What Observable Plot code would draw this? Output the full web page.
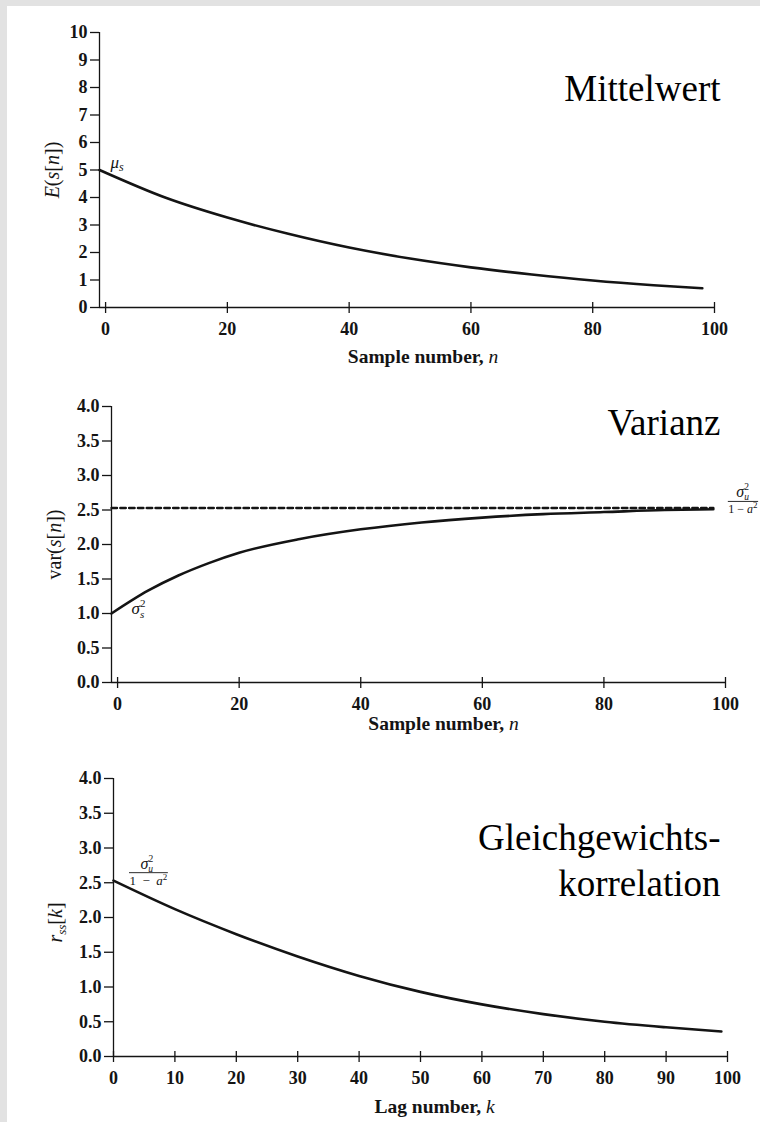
<!DOCTYPE html>
<html>
<head>
<meta charset="utf-8">
<script src="https://cdn.jsdelivr.net/npm/d3@7"></script>
<script src="https://cdn.jsdelivr.net/npm/@observablehq/plot@0.6"></script>
<style>
  html, body { margin: 0; padding: 0; background: #fff; }
  #page { position: relative; width: 760px; height: 1122px; overflow: hidden; background: #fff; }
  .fr { position: absolute; background: #e2e2e2; z-index: 5; }
  .fr.top { left: 0; top: 0; width: 760px; height: 6px; }
  .fr.left { left: 0; top: 0; width: 7px; height: 1122px; }
  .panel { position: absolute; left: 0; width: 760px; }
</style>
</head>
<body>
<div id="page">
  <div class="fr top"></div><div class="fr left"></div>
  <div id="p1" class="panel" style="top:0px"></div>
  <div id="p2" class="panel" style="top:375px"></div>
  <div id="p3" class="panel" style="top:745px"></div>
</div>
<script>
// ---------- data ----------
const meanN   = [-1, 10, 20, 30, 40, 50, 60, 70, 80, 90, 98];
const meanVal = [5.0, 3.98, 3.27, 2.68, 2.18, 1.78, 1.46, 1.2, 0.98, 0.81, 0.70];

const varN   = [-1, 5, 10, 15, 20, 30, 40, 50, 60, 70, 80, 90, 98];
const varVal = [1.0, 1.33, 1.55, 1.73, 1.88, 2.08, 2.22, 2.32, 2.39, 2.44, 2.47, 2.5, 2.51];

const asymN   = [-1, 98];
const asymVal = 2.53;

const lagK    = [0, 10, 20, 30, 40, 50, 60, 70, 80, 90, 99];
const corrVal = [2.53, 2.12, 1.76, 1.44, 1.16, 0.93, 0.75, 0.61, 0.5, 0.42, 0.36];

const meanYTicks   = [0, 1, 2, 3, 4, 5, 6, 7, 8, 9, 10];
const halfYTicks   = [0, 0.5, 1, 1.5, 2, 2.5, 3, 3.5, 4];
const sampleXTicks = [0, 20, 40, 60, 80, 100];
const lagXTicks    = [0, 10, 20, 30, 40, 50, 60, 70, 80, 90, 100];

const titles = ["Mittelwert", "Varianz", "Gleichgewichts-\nkorrelation"];

// ---------- rich text (math italics, sub/superscripts) ----------
const I = s => `<tspan font-style="italic">${s}</tspan>`;
const frac = (sp, den) =>
  `<tspan x="${sp}" y="-4" font-style="italic" font-size="16">σ</tspan>` +
  `<tspan font-size="9.5" dy="-7">2</tspan>` +
  `<tspan font-style="italic" font-size="9.5" dx="-4.8" dy="10">u</tspan>` +
  `<tspan class="den" x="0" y="12" font-size="${den.size}">1${den.gap}−${den.gap}<tspan font-style="italic">a</tspan><tspan font-size="9" dy="-5">2</tspan></tspan>`;
const RICH = {
  "§E": `${I("E")}(${I("s")}[${I("n")}])`,
  "§var": `var(${I("s")}[${I("n")}])`,
  "§r": `${I("r")}<tspan font-style="italic" font-size="13" dy="4">ss</tspan><tspan dy="-4">[</tspan>${I("k")}]`,
  "§sample": `Sample number, <tspan font-style="italic" font-weight="normal">n</tspan>`,
  "§lag": `Lag number, <tspan font-style="italic" font-weight="normal">k</tspan>`,
  "§mu": `${I("μ")}<tspan font-style="italic" font-size="12" dy="3">s</tspan>`,
  "§sig": `${I("σ")}<tspan font-size="11" dy="-7">2</tspan><tspan font-style="italic" font-size="11" dx="-5.5" dy="11">s</tspan>`,
  "§frac": frac(11, {size: 13, gap: "\u2002"}),
  "§fracR": frac(8, {size: 12, gap: " "})
};

const ink = "#141414";
const serif = "'Liberation Serif', 'Times New Roman', serif";

function axes({xmin, xmax, ymax, xTicks, yTicks, yFmt, pxY}) {
  return [
    Plot.ruleY([0], {x1: xmin, x2: xmax, stroke: ink, strokeWidth: 1.3}),
    Plot.ruleX([xmin], {y1: 0, y2: ymax, stroke: ink, strokeWidth: 1.3}),
    Plot.ruleX(xTicks, {x: d => d, y1: -6 / pxY, y2: 5 / pxY, stroke: ink, strokeWidth: 1.3}),
    Plot.axisX(xTicks, {tickSize: 0, tickPadding: 15, tickFormat: d => String(d),
      fontSize: 18, fontWeight: "bold", color: ink, label: null}),
    Plot.axisY(yTicks, {tickSize: 9, tickPadding: 3, tickFormat: yFmt, strokeWidth: 1.3,
      fontSize: 18, fontWeight: "bold", color: ink, label: null})
  ];
}

const style = {background: "transparent", fontFamily: serif, color: ink, overflow: "visible"};

// ---------- panel 1: mean ----------
const p1 = Plot.plot({
  width: 760, height: 375,
  marginLeft: 99, marginRight: 46, marginTop: 32, marginBottom: 68,
  x: {domain: [-1, 100]}, y: {domain: [0, 10]},
  style,
  marks: [
    ...axes({xmin: -1, xmax: 100, ymax: 10, xTicks: sampleXTicks, yTicks: meanYTicks, yFmt: d => String(d), pxY: 27.5}),
    Plot.line(meanN.map((n, i) => ({n, v: meanVal[i]})), {x: "n", y: "v", curve: "monotone-x", stroke: ink, strokeWidth: 2.6}),
    Plot.text([0], {x: i => meanN[i], y: i => meanVal[i], text: () => "§mu", textAnchor: "start", lineAnchor: "bottom",
      dx: 11, dy: -2, fontSize: 17, fill: ink}),
    Plot.text([titles[0]], {text: d => d, frameAnchor: "top-right", textAnchor: "end", lineAnchor: "bottom",
      dx: 6, dy: 68, fontSize: 37, fill: "#000"}),
    Plot.text(["§sample"], {text: d => d, frameAnchor: "bottom", textAnchor: "middle", lineAnchor: "bottom", dx: 16, dy: 55,
      fontSize: 19.5, fontWeight: "bold", fill: ink}),
    Plot.text(["§E"], {text: d => d, frameAnchor: "left", textAnchor: "middle", lineAnchor: "middle", rotate: -90, dx: -47, fontSize: 20, fill: ink})
  ]
});

// ---------- panel 2: variance ----------
const p2 = Plot.plot({
  width: 760, height: 370,
  marginLeft: 111, marginRight: 35, marginTop: 31, marginBottom: 63,
  x: {domain: [-1, 100]}, y: {domain: [0, 4]},
  style,
  marks: [
    ...axes({xmin: -1, xmax: 100, ymax: 4, xTicks: sampleXTicks, yTicks: halfYTicks, yFmt: d3.format(".1f"), pxY: 69}),
    Plot.line(asymN.map(n => ({n, v: asymVal})), {x: "n", y: "v", stroke: ink, strokeWidth: 2.4, strokeDasharray: "5.5,3.3"}),
    Plot.line(varN.map((n, i) => ({n, v: varVal[i]})), {x: "n", y: "v", curve: "monotone-x", stroke: ink, strokeWidth: 2.6}),
    Plot.text([0], {x: i => varN[i], y: i => varVal[i], text: () => "§sig", textAnchor: "start", lineAnchor: "bottom",
      dx: 20, dy: 0, fontSize: 17, fill: ink}),
    Plot.text([1], {x: i => asymN[i], y: () => asymVal, text: () => "§fracR", textAnchor: "start", lineAnchor: "bottom",
      dx: 15, dy: -6.5, fontSize: 13, fill: ink}),
    Plot.text([titles[1]], {text: d => d, frameAnchor: "top-right", textAnchor: "end", lineAnchor: "bottom",
      dx: -5, dy: 28, fontSize: 37, fill: "#000"}),
    Plot.text(["§sample"], {text: d => d, frameAnchor: "bottom", textAnchor: "middle", lineAnchor: "bottom", dx: 25, dy: 47,
      fontSize: 19.5, fontWeight: "bold", fill: ink}),
    Plot.text(["§var"], {text: d => d, frameAnchor: "left", textAnchor: "middle", lineAnchor: "middle", rotate: -90, dx: -57, fontSize: 20, fill: ink})
  ]
});

// ---------- panel 3: correlation ----------
const p3 = Plot.plot({
  width: 760, height: 377,
  marginLeft: 113, marginRight: 33, marginTop: 33, marginBottom: 66,
  x: {domain: [0, 100]}, y: {domain: [0, 4]},
  style,
  marks: [
    ...axes({xmin: 0, xmax: 100, ymax: 4, xTicks: lagXTicks, yTicks: halfYTicks, yFmt: d3.format(".1f"), pxY: 69.5}),
    Plot.line(lagK.map((k, i) => ({k, v: corrVal[i]})), {x: "k", y: "v", curve: "monotone-x", stroke: ink, strokeWidth: 2.6}),
    Plot.text([0], {x: i => lagK[i], y: i => corrVal[i], text: () => "§frac", textAnchor: "start", lineAnchor: "bottom",
      dx: 16, dy: -8, fontSize: 13, fill: ink}),
    Plot.text([titles[2]], {text: d => d, frameAnchor: "top-right", textAnchor: "end", lineAnchor: "bottom",
      lineHeight: 1.22, dx: -7, dy: 117, fontSize: 37, fill: "#000"}),
    Plot.text(["§lag"], {text: d => d, frameAnchor: "bottom", textAnchor: "middle", lineAnchor: "bottom", dx: 14, dy: 56,
      fontSize: 19.5, fontWeight: "bold", fill: ink}),
    Plot.text(["§r"], {text: d => d, frameAnchor: "left", textAnchor: "middle", lineAnchor: "middle", rotate: -90, dx: -58, dy: 5, fontSize: 20, fill: ink})
  ]
});

document.getElementById("p1").appendChild(p1);
document.getElementById("p2").appendChild(p2);
document.getElementById("p3").appendChild(p3);

// ---------- enrich texts, add fraction bars ----------
[p1, p2, p3].forEach(svg => {
  svg.querySelectorAll("text").forEach(t => {
    const key = t.textContent;
    if (!RICH[key]) return;
    t.innerHTML = RICH[key];
    if (key.startsWith("§frac")) {
      const den = t.querySelector(".den");
      const w = den.getComputedTextLength();
      const ln = document.createElementNS("http://www.w3.org/2000/svg", "line");
      const tr = t.getAttribute("transform");
      if (tr) ln.setAttribute("transform", tr);
      ln.setAttribute("x1", -0.5);
      ln.setAttribute("x2", w + 0.5);
      ln.setAttribute("y1", 0);
      ln.setAttribute("y2", 0);
      ln.setAttribute("stroke", ink);
      ln.setAttribute("stroke-width", 0.9);
      t.parentNode.appendChild(ln);
    }
  });
});
</script>
</body>
</html>
